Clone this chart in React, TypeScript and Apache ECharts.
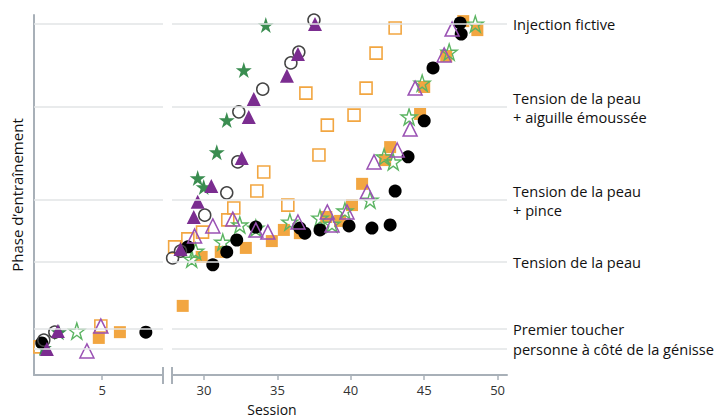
import React, { useEffect, useRef } from "react";
import * as echarts from "echarts";

// Phase levels (y positions on the training-phase scale) and their labels
const phaseLevels = [97.5, 74.4, 48.6, 31.4, 12.8, 7.2];
const phaseLabels = [
  "Injection fictive",
  "Tension de la peau\n+ aiguille émoussée",
  "Tension de la peau\n+ pince",
  "Tension de la peau",
  "Premier toucher",
  "personne à côté de la génisse",
];

const leftTicks = [5];
const rightTicks = [30, 35, 40, 45, 50];

// [session, phase] for each animal
const blackFilled = [
  [0.88, 8.9], [7.98, 11.9], [28.9, 35.6], [30.6, 30.6], [31.55, 34.2], [32.23, 37.5],
  [33.53, 41.1], [36.53, 40.8], [36.87, 39.4], [37.9, 40.3], [39.88, 41.4], [41.44, 40.8],
  [42.68, 41.7], [43.02, 51.1], [43.9, 60.6], [45.0, 70.6], [45.6, 85.3], [47.45, 97.8], [47.52, 94.7],
];
const greyOpen = [
  [1.02, 9.7], [1.77, 11.9], [27.86, 32.5], [28.4, 34.4], [30.05, 44.4], [31.55, 50.6],
  [32.3, 59.2], [32.37, 73.1], [34.0, 79.4], [35.92, 86.7], [36.46, 89.7], [37.49, 98.6],
];
const purpleFilled = [
  [1.23, 7.2], [1.98, 12.2], [28.4, 35.0], [29.3, 43.9], [29.57, 48.1], [30.5, 52.5],
  [32.57, 60.3], [33.05, 71.7], [33.39, 76.7], [35.65, 83.1], [36.4, 89.2], [37.56, 97.5],
];
const purpleOpen = [
  [3.96, 6.7], [4.91, 13.6], [29.36, 38.6], [30.6, 41.4], [31.96, 43.3], [33.53, 40.3],
  [34.35, 39.7], [36.4, 42.5], [38.4, 45.3], [38.72, 41.7], [39.74, 45.3], [41.11, 50.8],
  [41.58, 59.2], [43.16, 62.5], [44.04, 68.3], [44.38, 79.7], [46.36, 88.9], [46.9, 96.1],
];
const greenFilled = [
  [1.02, 7.5], [2.05, 11.9], [29.57, 54.7], [29.98, 52.2], [30.87, 61.9], [31.55, 70.8],
  [32.71, 84.7], [34.21, 97.2],
];
const greenOpen = [
  [3.27, 12.2], [29.16, 32.2], [29.43, 34.4], [31.28, 36.9], [32.44, 41.7], [33.53, 40.8],
  [35.85, 42.5], [37.9, 43.6], [38.72, 41.9], [39.6, 45.6], [41.31, 48.6], [42.27, 60.6],
  [42.89, 59.2], [43.97, 71.7], [44.86, 81.1], [46.7, 89.7], [48.48, 97.5],
];
const orangeFilled = [
  [4.77, 10.3], [6.21, 11.9], [28.55, 19.2], [29.84, 32.8], [31.14, 34.2], [32.85, 35.3],
  [34.62, 37.2], [35.44, 40.3], [36.53, 39.4], [38.33, 43.9], [39.27, 42.8], [40.08, 47.2],
  [40.77, 53.1], [42.34, 59.7], [42.68, 63.3], [44.72, 72.5], [45.0, 80.0], [46.5, 88.6],
  [47.66, 98.3], [48.62, 95.8],
];
const orangeOpen = [
  [0.75, 7.8], [4.91, 13.6], [28.0, 35.6], [28.9, 37.8], [29.9, 39.7], [31.62, 43.1],
  [32.03, 46.4], [33.6, 51.1], [34.07, 56.4], [35.71, 47.2], [36.94, 78.3], [37.83, 61.1],
  [38.4, 69.4], [40.22, 72.2], [41.04, 79.7], [41.72, 89.4], [43.02, 96.4],
];

const STAR =
  "path://M50,2 L61.8,37.6 L99,37.6 L68.9,59.4 L80.4,95 L50,73 L19.6,95 L31.1,59.4 L1,37.6 L38.2,37.6 Z";

const ORANGE = "#f2a641";
const FONT = "Open Sans";
const AXIS_COLOR = "#a8b0b8";

export default function App() {
  const ref = useRef<HTMLDivElement>(null);
  useEffect(() => {
    if (!ref.current) return;
    const chart = echarts.init(ref.current, undefined, { renderer: "svg" });

    const groups = [
      { data: orangeFilled, symbol: "rect", size: 12, style: { color: ORANGE, opacity: 1 } },
      { data: orangeOpen, symbol: "rect", size: 12, style: { color: "transparent", borderColor: ORANGE, borderWidth: 1.6, opacity: 1 } },
      { data: greenFilled, symbol: STAR, size: 16, style: { color: "#3a8d50", opacity: 1 } },
      { data: greenOpen, symbol: STAR, size: 16, style: { color: "transparent", borderColor: "#5bb462", borderWidth: 1.4, opacity: 1 } },
      { data: blackFilled, symbol: "circle", size: 13, style: { color: "#000", opacity: 1 } },
      { data: greyOpen, symbol: "circle", size: 12, style: { color: "transparent", borderColor: "#444", borderWidth: 1.5, opacity: 1 } },
      { data: purpleFilled, symbol: "triangle", size: 14, style: { color: "#7b2d90", opacity: 1 } },
      { data: purpleOpen, symbol: "triangle", size: 14, style: { color: "transparent", borderColor: "#9a52b4", borderWidth: 1.5, opacity: 1 } },
    ];

    const series: any[] = [];
    [0, 1].forEach((g) => {
      series.push({
        type: "scatter",
        xAxisIndex: g,
        yAxisIndex: g,
        data: [],
        silent: true,
        markLine: {
          silent: true,
          symbol: ["none", "none"],
          lineStyle: { color: "#e2e4e6", type: "solid", width: 1.5 },
          label: g === 1
            ? { show: true, position: "end", color: "#111", fontSize: 14.6, fontFamily: FONT, lineHeight: 19, distance: 6 }
            : { show: false },
          data: phaseLevels.map((v, i) => ({ yAxis: v, label: { formatter: phaseLabels[i] } })),
        },
      });
      groups.forEach((s) => {
        series.push({
          type: "scatter",
          xAxisIndex: g,
          yAxisIndex: g,
          clip: false,
          symbol: s.symbol,
          symbolSize: s.size,
          itemStyle: s.style,
          data: s.data.filter((p) => (g === 0 ? p[0] < 20 : p[0] >= 20)),
        });
      });
    });

    const xBase = {
      type: "value",
      splitLine: { show: false },
      axisLine: { show: true, lineStyle: { color: AXIS_COLOR, width: 2 } },
      axisTick: { show: true, length: 5, lineStyle: { color: AXIS_COLOR, width: 1.5 } },
    };

    chart.setOption({
      animation: false,
      textStyle: { fontFamily: FONT },
      grid: [
        { left: 34, top: 15, width: 129, bottom: 43 },
        { left: 172, top: 15, width: 335, bottom: 43 },
      ],
      xAxis: [
        {
          ...xBase,
          gridIndex: 0,
          min: 0.35,
          max: 9.15,
          axisTick: { ...xBase.axisTick, customValues: leftTicks },
          axisLabel: { customValues: leftTicks, color: "#333", fontSize: 13, fontFamily: FONT, margin: 8 },
        },
        {
          ...xBase,
          gridIndex: 1,
          min: 27.82,
          max: 50.64,
          axisTick: { ...xBase.axisTick, customValues: rightTicks },
          axisLabel: { customValues: rightTicks, color: "#333", fontSize: 13, fontFamily: FONT, margin: 8 },
        },
      ],
      yAxis: [
        {
          type: "value",
          gridIndex: 0,
          min: 0,
          max: 100,
          splitLine: { show: false },
          axisTick: { show: false },
          axisLabel: { show: false },
          axisLine: { show: true, lineStyle: { color: AXIS_COLOR, width: 2 } },
          name: "Phase d’entraînement",
          nameLocation: "middle",
          nameGap: 10,
          nameRotate: 90,
          nameTextStyle: { color: "#111", fontSize: 15, fontFamily: FONT },
        },
        {
          type: "value",
          gridIndex: 1,
          min: 0,
          max: 100,
          show: false,
        },
      ],
      graphic: [
        { type: "line", shape: { x1: 163, y1: 367, x2: 163, y2: 384 }, style: { stroke: AXIS_COLOR, lineWidth: 2 } },
        { type: "line", shape: { x1: 172, y1: 367, x2: 172, y2: 384 }, style: { stroke: AXIS_COLOR, lineWidth: 2 } },
        {
          type: "text",
          x: 272,
          y: 409,
          style: { text: "Session", fill: "#111", fontSize: 14, fontFamily: FONT, textAlign: "center", textVerticalAlign: "middle" },
        },
      ],
      series,
    });
    return () => chart.dispose();
  }, []);
  return <div ref={ref} style={{ width: 718, height: 418, position: "absolute", left: 0, top: 0 }} />;
}
